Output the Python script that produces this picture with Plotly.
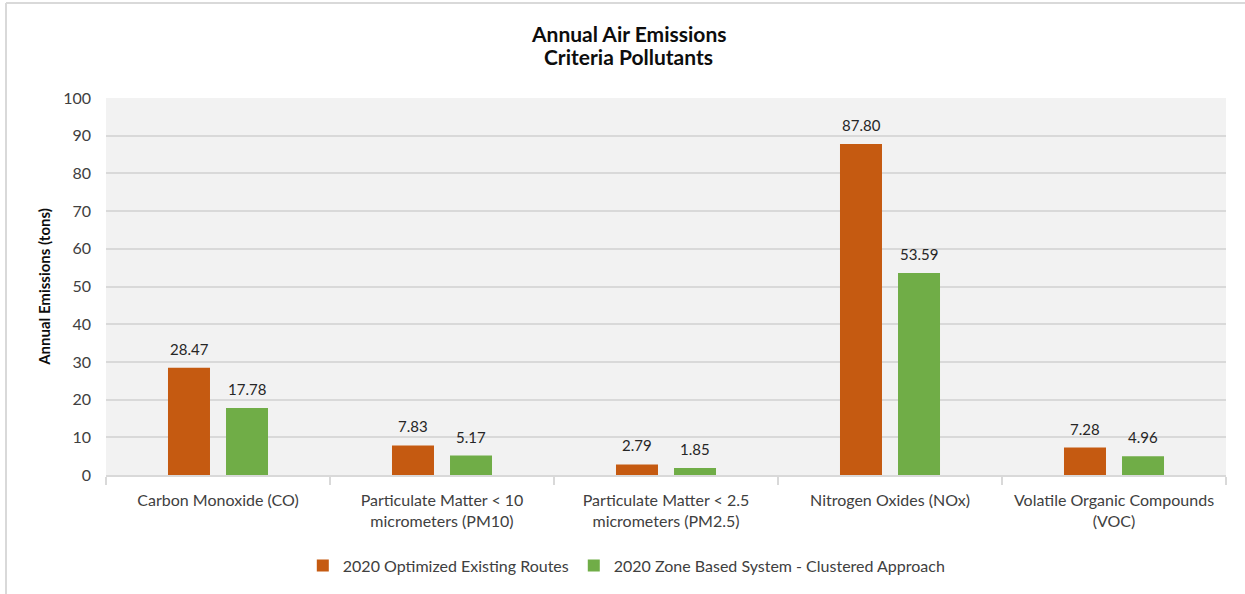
import plotly.graph_objects as go

categories = [
    "Carbon Monoxide (CO)",
    "Particulate Matter < 10<br>micrometers (PM10)",
    "Particulate Matter < 2.5<br>micrometers (PM2.5)",
    "Nitrogen Oxides (NOx)",
    "Volatile Organic Compounds<br>(VOC)",
]
series_names = ["2020 Optimized Existing Routes", "2020 Zone Based System - Clustered Approach"]
optimized = [28.47, 7.83, 2.79, 87.80, 7.28]
zone_based = [17.78, 5.17, 1.85, 53.59, 4.96]
colors = ["#C55A11", "#70AD47"]
title_lines = ["Annual Air Emissions", "Criteria Pollutants"]

FONT = "Lato, 'Open Sans', sans-serif"

fig = go.Figure()
annotations = []
for i, (name, vals, col) in enumerate(zip(series_names, [optimized, zone_based], colors)):
    fig.add_trace(go.Bar(
        x=categories, y=vals, name=name, marker=dict(color=col, line=dict(width=0)),
    ))
    shift = -29 if i == 0 else 29
    for c, v in zip(categories, vals):
        annotations.append(dict(x=c, y=v, text=f"{v:.2f}", showarrow=False, xshift=shift,
                                yshift=8, yanchor="bottom",
                                font=dict(size=15, color="#262626", family=FONT)))

for line, ypx in zip(title_lines, [33, 56]):
    annotations.append(dict(xref="paper", yref="paper", x=(628 - 106) / 1120, y=1 + (98 - ypx) / 381,
                            xanchor="center", yanchor="middle", showarrow=False, text=f"<b>{line}</b>",
                            font=dict(size=21, color="#0d0d0d", family=FONT)))

fig.update_layout(
    width=1245, height=594,
    margin=dict(l=106, r=19, t=98, b=115),
    paper_bgcolor="white", plot_bgcolor="#f2f2f2",
    barmode="group", bargap=0.482, bargroupgap=0.276,
    font=dict(family=FONT, color="#404040", size=16),
    legend=dict(orientation="h", x=0.465, xanchor="center", y=-0.195, yanchor="top",
                font=dict(size=16, color="#404040"), itemwidth=30, traceorder="normal"),
    yaxis=dict(range=[0, 100], dtick=10, showgrid=True, gridcolor="#d9d9d9", gridwidth=1.5,
               zeroline=False, ticks="", tickfont=dict(size=16, color="#404040"),
               ticklabelstandoff=14,
               title=dict(text="<b>Annual Emissions (tons)</b>", font=dict(size=15, color="#0d0d0d"), standoff=8),
               fixedrange=True),
    xaxis=dict(showline=True, linecolor="#d9d9d9", linewidth=1.5, ticks="outside", tickson="boundaries",
               ticklen=8, tickcolor="#d9d9d9", tickwidth=1.5, tickfont=dict(size=16, color="#404040"),
               ticklabelstandoff=10),
    annotations=annotations,
    shapes=[
        dict(type="line", xref="paper", yref="paper", x0=(6 - 106) / 1120, x1=1.2,
             y0=1 + (98 - 2) / 381, y1=1 + (98 - 2) / 381, line=dict(color="#d9d9d9", width=2)),
        dict(type="line", xref="paper", yref="paper", x0=(6 - 106) / 1120, x1=(6 - 106) / 1120,
             y0=1 + (98 - 2) / 381, y1=-0.5, line=dict(color="#d9d9d9", width=2)),
    ],
)

fig.write_html("out.html")
